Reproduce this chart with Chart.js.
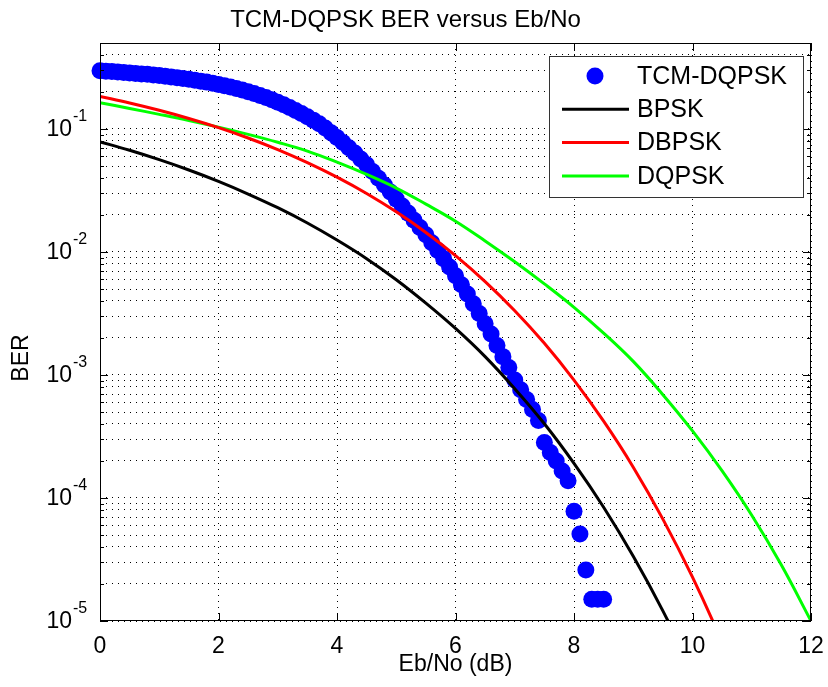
<!DOCTYPE html>
<html>
<head>
<meta charset="utf-8">
<title>TCM-DQPSK BER versus Eb/No</title>
<script src="https://cdn.jsdelivr.net/npm/chart.js@4.4.0/dist/chart.umd.min.js"></script>
<style>
  html, body { margin: 0; padding: 0; background: #fff; }
  canvas { display: block; }
</style>
</head>
<body>
<canvas id="ber" width="828" height="687"></canvas>
<script>
// simulated TCM-DQPSK points
const simEbNo = [
  0, 0.1, 0.2, 0.3, 0.4, 0.5, 0.6, 0.7, 0.8, 0.9,
  1, 1.1, 1.2, 1.3, 1.4, 1.5, 1.6, 1.7, 1.8, 1.9,
  2, 2.1, 2.2, 2.3, 2.4, 2.5, 2.6, 2.7, 2.8, 2.9,
  3, 3.1, 3.2, 3.3, 3.4, 3.5, 3.6, 3.7, 3.8, 3.9,
  4, 4.1, 4.2, 4.3, 4.4, 4.5, 4.6, 4.7, 4.8, 4.9,
  5, 5.1, 5.2, 5.3, 5.4, 5.5, 5.6, 5.7, 5.8, 5.9,
  6, 6.1, 6.2, 6.3, 6.4, 6.5, 6.6, 6.7, 6.8, 6.9,
  7, 7.1, 7.2, 7.3, 7.4, 7.5, 7.6, 7.7, 7.8, 7.9,
  8, 8.1, 8.2, 8.3, 8.4, 8.5
];
const simBer = [
  0.2972, 0.2951, 0.2931, 0.2904, 0.2884, 0.2858, 0.2831, 0.2805, 0.2780, 0.2748,
  0.2716, 0.2685, 0.2649, 0.2612, 0.2576, 0.2535, 0.2495, 0.2449, 0.2404, 0.2355,
  0.2301, 0.2249, 0.2193, 0.2133, 0.2075, 0.2009, 0.1941, 0.1871, 0.1799, 0.1726,
  0.1652, 0.1574, 0.1496, 0.1416, 0.1337, 0.1259, 0.1180, 0.1104, 0.1019, 0.0933,
  0.0851, 0.0776, 0.0705, 0.0637, 0.0571, 0.0511, 0.0452, 0.0398, 0.0350, 0.0307,
  0.0269, 0.0236, 0.0207, 0.0181, 0.0158, 0.0138, 0.0119, 0.0103, 0.00883, 0.00755,
  0.00641, 0.00542, 0.00455, 0.00380, 0.00316, 0.00261, 0.00215, 0.00174, 0.00141, 0.00115,
  0.000912, 0.000759, 0.000631, 0.000525, 0.000427, 0.000282, 0.000234, 0.000200, 0.000166, 0.000138,
  7.8e-5, 5.1e-5, 2.6e-5, 1.5e-5, 1.5e-5, 1.5e-5
];

// theory curves
const theoryEbNo = [0, 0.5, 1, 1.5, 2, 2.5, 3, 3.5, 4, 4.5, 5, 5.5, 6, 6.5, 7, 7.5, 8, 8.5, 9, 9.5, 10, 10.5, 11, 11.5, 12];
const bpskBer = [0.0786, 0.0671, 0.0563, 0.0464, 0.0375, 0.0296, 0.0229, 0.0172, 0.0125, 0.00882,
  0.00595, 0.00384, 0.00239, 0.00141, 0.000773, 0.000401, 0.000191, 8.4e-5, 3.36e-5, 1.21e-5,
  3.87e-6, 1.08e-6, 2.6e-7, 5.3e-8, 9.0e-9];
const dbpskBer = [0.1839, 0.1628, 0.1420, 0.1218, 0.1025, 0.0845, 0.0680, 0.0533, 0.0406, 0.0299,
  0.0212, 0.0144, 0.00933, 0.00574, 0.00333, 0.00181, 0.000909, 0.000421, 0.000178, 6.73e-5,
  2.27e-5, 6.7e-6, 1.7e-6, 3.6e-7, 6.5e-8];
const dqpskBer = [0.1637, 0.1469, 0.1315, 0.1172, 0.1035, 0.0904, 0.0780, 0.0661, 0.0537, 0.0427,
  0.0331, 0.0245, 0.0178, 0.0123, 0.00832, 0.00550, 0.00355, 0.00219, 0.00129, 0.000692,
  0.000351, 0.000166, 7.24e-5, 2.85e-5, 1.0e-5];

const yDecades = [1e-5, 1e-4, 1e-3, 1e-2, 1e-1];
const yMin = 1e-5, yMax = 0.5;

const FONT = '"Liberation Sans", Arial, Helvetica, sans-serif';

function pts(xs, ys) {
  return xs.map((x, i) => ({ x: x, y: ys[i] }));
}

// matlab style box, inner ticks, 10^n labels, y title and legend
const matlabAxes = {
  id: 'matlabAxes',
  afterDraw(chart) {
    const { ctx, chartArea: a, scales: { x, y } } = chart;
    ctx.save();

    ctx.strokeStyle = '#000';
    ctx.lineWidth = 1;
    ctx.beginPath();
    y.ticks.forEach(t => {
      const py = Math.round(y.getPixelForValue(t.value)) + 0.5;
      const len = yDecades.includes(t.value) ? 8 : 4;
      ctx.moveTo(a.left, py); ctx.lineTo(a.left + len, py);
      ctx.moveTo(a.right, py); ctx.lineTo(a.right - len, py);
    });
    x.ticks.forEach(t => {
      const px = Math.round(x.getPixelForValue(t.value)) + 0.5;
      ctx.moveTo(px, a.bottom); ctx.lineTo(px, a.bottom - 8);
      ctx.moveTo(px, a.top); ctx.lineTo(px, a.top + 8);
    });
    ctx.stroke();
    ctx.strokeRect(Math.round(a.left) + 0.5, Math.round(a.top) + 0.5,
      Math.round(a.right - a.left) - 1, Math.round(a.bottom - a.top) - 1);

    // y tick labels as 10 with superscript
    ctx.fillStyle = '#000';
    ctx.textBaseline = 'middle';
    yDecades.forEach(d => {
      const py = y.getPixelForValue(d);
      ctx.font = '23px ' + FONT;
      ctx.textAlign = 'right';
      ctx.fillText('10', 72, py + 1);
      ctx.font = '16px ' + FONT;
      ctx.textAlign = 'left';
      ctx.fillText(String(Math.round(Math.log10(d))), 73, py - 12);
    });

    // y axis title, sits a bit below the middle like the original
    ctx.save();
    ctx.translate(22, 358);
    ctx.rotate(-Math.PI / 2);
    ctx.font = '23px ' + FONT;
    ctx.textAlign = 'center';
    ctx.fillText('BER', 0, 0);
    ctx.restore();

    // legend box
    const lx = 549, ly = 56, lw = 254, lh = 141;
    ctx.fillStyle = '#fff';
    ctx.fillRect(lx, ly, lw, lh);
    ctx.strokeStyle = '#333';
    ctx.lineWidth = 1;
    ctx.strokeRect(lx + 0.5, ly + 0.5, lw, lh);
    chart.data.datasets.forEach((ds, i) => {
      const ry = 76 + i * 33.3;
      if (ds.showLine === false) {
        ctx.fillStyle = ds.backgroundColor;
        ctx.beginPath();
        ctx.arc(595, ry, 8.5, 0, Math.PI * 2);
        ctx.fill();
      } else {
        ctx.strokeStyle = ds.borderColor;
        ctx.lineWidth = 3;
        ctx.beginPath();
        ctx.moveTo(562, ry); ctx.lineTo(629, ry);
        ctx.stroke();
      }
      ctx.fillStyle = '#000';
      ctx.font = '25px ' + FONT;
      ctx.textAlign = 'left';
      ctx.fillText(ds.label, 637, ry + 1);
    });

    ctx.restore();
  }
};

new Chart(document.getElementById('ber'), {
  type: 'line',
  data: {
    datasets: [
      {
        label: 'TCM-DQPSK',
        data: pts(simEbNo, simBer),
        showLine: false,
        pointRadius: 8.5,
        pointHoverRadius: 8.5,
        pointBorderWidth: 0,
        backgroundColor: '#0000ff',
        borderColor: '#0000ff',
        clip: false,
        order: 10
      },
      {
        label: 'BPSK',
        data: pts(theoryEbNo, bpskBer),
        borderColor: '#000000',
        borderWidth: 3,
        pointRadius: 0,
        tension: 0.4,
        order: 1
      },
      {
        label: 'DBPSK',
        data: pts(theoryEbNo, dbpskBer),
        borderColor: '#ff0000',
        borderWidth: 3,
        pointRadius: 0,
        tension: 0.4,
        order: 1
      },
      {
        label: 'DQPSK',
        data: pts(theoryEbNo, dqpskBer),
        borderColor: '#00ff00',
        borderWidth: 3,
        pointRadius: 0,
        tension: 0.4,
        order: 1
      }
    ]
  },
  options: {
    responsive: false,
    animation: false,
    devicePixelRatio: 1,
    layout: { padding: { left: 0, right: 17, top: 0, bottom: 0 } },
    plugins: {
      legend: { display: false },
      tooltip: { enabled: false },
      title: {
        display: true,
        text: 'TCM-DQPSK BER versus Eb/No',
        color: '#000',
        font: { family: FONT, size: 24, weight: 'normal' },
        padding: { top: 6, bottom: 8.2 }
      }
    },
    scales: {
      x: {
        type: 'linear',
        min: 0,
        max: 12,
        ticks: { stepSize: 2, color: '#000', padding: 12, font: { family: FONT, size: 23 } },
        grid: { color: '#000', lineWidth: 1, drawTicks: false },
        border: { display: false, dash: [1, 5] },
        title: {
          display: true,
          text: 'Eb/No (dB)',
          color: '#000',
          font: { family: FONT, size: 23 },
          padding: { top: 0, bottom: 9 }
        },
        afterFit(scale) {
          scale.height = 66;
          // the edge labels fit inside the page margins already
          scale.paddingLeft = 0;
          scale.paddingRight = 0;
        }
      },
      y: {
        type: 'logarithmic',
        min: yMin,
        max: yMax,
        ticks: { display: false },
        grid: { color: '#000', lineWidth: 1, drawTicks: false },
        border: { display: false, dash: [1, 5] },
        title: { display: false },
        afterBuildTicks(scale) {
          const list = [];
          yDecades.forEach(d => {
            for (let m = 1; m <= 9; m++) {
              const v = d * m;
              if (v <= yMax * 1.0001) list.push({ value: v });
            }
          });
          scale.ticks = list;
        },
        afterFit(scale) { scale.width = 100; }
      }
    }
  },
  plugins: [matlabAxes]
});
</script>
</body>
</html>
